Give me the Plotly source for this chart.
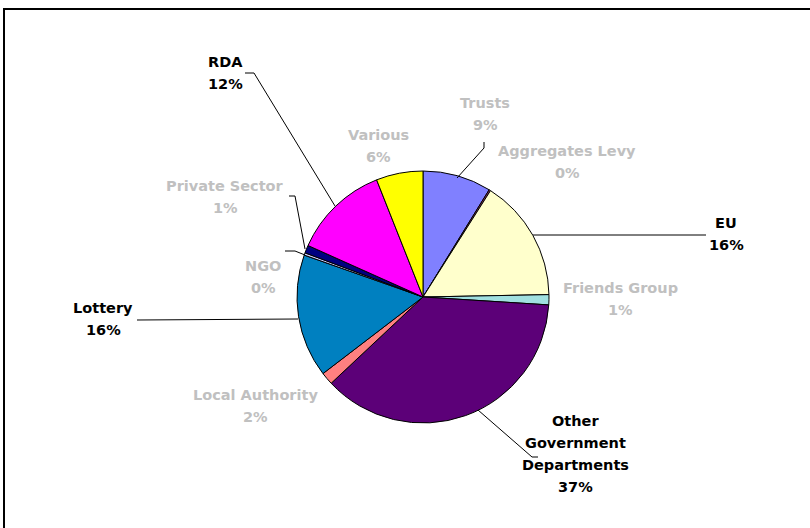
import plotly.graph_objects as go

# ---- data ----
categories = ["Trusts", "Aggregates Levy", "EU", "Friends Group",
              "Other Government Departments", "Local Authority", "Lottery",
              "NGO", "Private Sector", "RDA", "Various"]
values = [8.8, 0.2, 15.7, 1.3, 37.0, 1.6, 15.8, 0.3, 1.0, 12.3, 6.0]
label_lines = [["Trusts"], ["Aggregates Levy"], ["EU"], ["Friends Group"],
               ["Other", "Government", "Departments"], ["Local Authority"],
               ["Lottery"], ["NGO"], ["Private Sector"], ["RDA"], ["Various"]]

# ---- styling / layout (not data) ----
colors = ["#8080FF", "#993366", "#FFFFCC", "#A0E0E0", "#5C0078", "#FF8080",
          "#0080C0", "#CCCCFF", "#000080", "#FF00FF", "#FFFF00"]
dark = {"EU", "Other Government Departments", "Lottery", "RDA"}
# first-line centre of each label, in pixels
label_pos = [(485, 103), (567, 151), (726, 223), (620, 288), (575, 421),
             (255, 395), (103, 308), (263, 266), (225, 186), (225, 62), (378, 135)]
leaders = {
    "Trusts": [(457, 178), (484, 148), (484, 142)],
    "EU": [(533, 235), (706, 235)],
    "Lottery": [(298, 319), (137, 320)],
    "Private Sector": [(305, 249), (295, 196), (289, 196)],
    "NGO": [(305, 255), (295, 251), (285, 251)],
    "RDA": [(335, 206), (254, 73), (245, 73)],
    "Other Government Departments": [(478, 410), (532, 457), (538, 457)],
}

W, H = 810, 528
cx, cy, r = 423, 297, 126


def px(x):
    return x / W


def py(y):
    return 1 - y / H


fig = go.Figure(go.Pie(
    labels=categories, values=values, sort=False, direction="clockwise",
    rotation=0, textinfo="none", hoverinfo="label+percent",
    marker=dict(colors=colors, line=dict(color="black", width=1)),
    domain=dict(x=[px(cx - r), px(cx + r)], y=[py(cy + r), py(cy - r)]),
    showlegend=False,
))

total = sum(values)
annotations = []
for name, lines, v, (lx, ly) in zip(categories, label_lines, values, label_pos):
    pct = f"{round(v / total * 100)}%"
    col = "black" if name in dark else "#C0C0C0"
    for i, t in enumerate(lines + [pct]):
        annotations.append(dict(
            x=px(lx), y=py(ly), xref="paper", yref="paper", text=t,
            showarrow=False, xanchor="center", yanchor="middle", yshift=-22 * i,
            font=dict(family="DejaVu Sans", size=14.5, color=col, weight="bold"),
        ))

shapes = [dict(type="rect", xref="paper", yref="paper",
               x0=px(4), y0=py(9), x1=px(830), y1=py(560),
               line=dict(color="black", width=2), fillcolor="rgba(0,0,0,0)")]
for name, pts in leaders.items():
    path = "M " + " L ".join(f"{px(x)},{py(y)}" for x, y in pts)
    shapes.append(dict(type="path", xref="paper", yref="paper", path=path,
                       line=dict(color="black", width=1)))

fig.update_layout(
    width=W, height=H, margin=dict(l=0, r=0, t=0, b=0),
    paper_bgcolor="white", plot_bgcolor="white",
    annotations=annotations, shapes=shapes,
)
fig.write_html("out.html")
